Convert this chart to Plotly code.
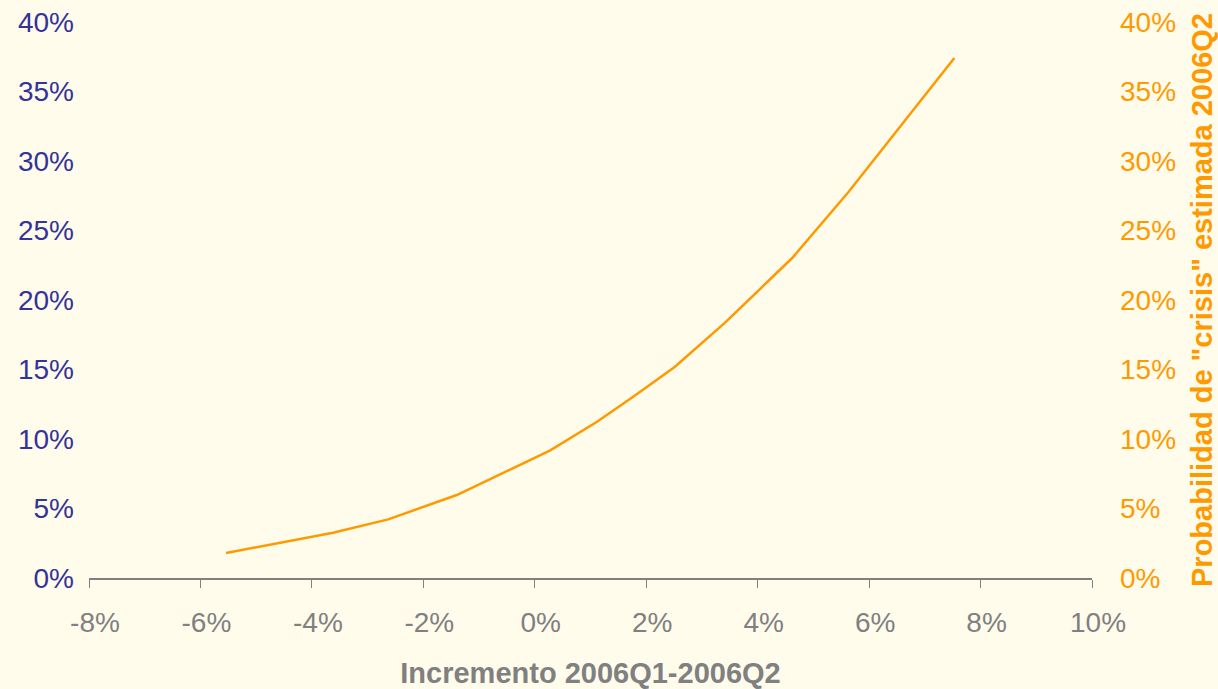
import plotly.graph_objects as go

# Data
incremento = [-0.0554, -0.0362, -0.0263, -0.0140, 0.0027, 0.0111, 0.0176, 0.0251, 0.0341, 0.0462, 0.0563, 0.0753]
probabilidad = [0.0180, 0.0326, 0.0422, 0.0597, 0.0917, 0.1122, 0.1302, 0.1518, 0.1835, 0.2302, 0.2777, 0.3741]

x_tickvals = [-0.08, -0.06, -0.04, -0.02, 0.0, 0.02, 0.04, 0.06, 0.08, 0.10]
x_ticktext = ["-8%", "-6%", "-4%", "-2%", "0%", "2%", "4%", "6%", "8%", "10%"]

x_title = "Incremento 2006Q1-2006Q2"
y2_title = "Probabilidad de \"crisis\" estimada 2006Q2"

BG = "#FFFCEC"
ORANGE = "#FF9900"
BLUE = "#333399"
GRAY = "#808080"
FONT = "Liberation Sans, Arial, sans-serif"

fig = go.Figure()
fig.add_trace(go.Scatter(x=incremento, y=probabilidad, mode="lines", yaxis="y",
                         line=dict(color=ORANGE, width=2.5), opacity=0,
                         hoverinfo="skip", showlegend=False))
fig.add_trace(go.Scatter(x=incremento, y=probabilidad, mode="lines", yaxis="y2",
                         line=dict(color=ORANGE, width=2.5), showlegend=False))

fig.update_layout(
    width=1218, height=689,
    paper_bgcolor=BG, plot_bgcolor=BG,
    margin=dict(l=89, r=126, t=22, b=111, autoexpand=False),
    font=dict(family=FONT, size=28, color=GRAY),
    xaxis=dict(range=[-0.08, 0.10], tickvals=x_tickvals, ticktext=x_ticktext, automargin=False,
               showgrid=False, zeroline=False, showline=True, linecolor=GRAY, linewidth=1.5,
               ticks="outside", ticklen=8, tickcolor=GRAY, tickwidth=1,
               tickfont=dict(size=28, color=GRAY), ticklabelstandoff=11, ticklabelshift=6,
               title=dict(text="<b>" + x_title + "</b>", font=dict(size=29, color=GRAY), standoff=37)),
    yaxis=dict(range=[0, 0.4], dtick=0.05, tickformat=".0%", showgrid=False, zeroline=False,
               automargin=False, showline=False, tickfont=dict(size=28, color=BLUE), ticklabelstandoff=14),
    yaxis2=dict(range=[0, 0.4], dtick=0.05, tickformat=".0%", overlaying="y", side="right",
                showgrid=False, zeroline=False, showline=False, automargin=False,
                tickfont=dict(size=28, color=ORANGE), ticklabelstandoff=27,
                title=dict(text="<b>" + y2_title + "</b>", font=dict(size=29, color=ORANGE), standoff=16)),
)

fig.write_html("out.html", config={"displayModeBar": False},
               post_script="document.body.style.margin='0';")
